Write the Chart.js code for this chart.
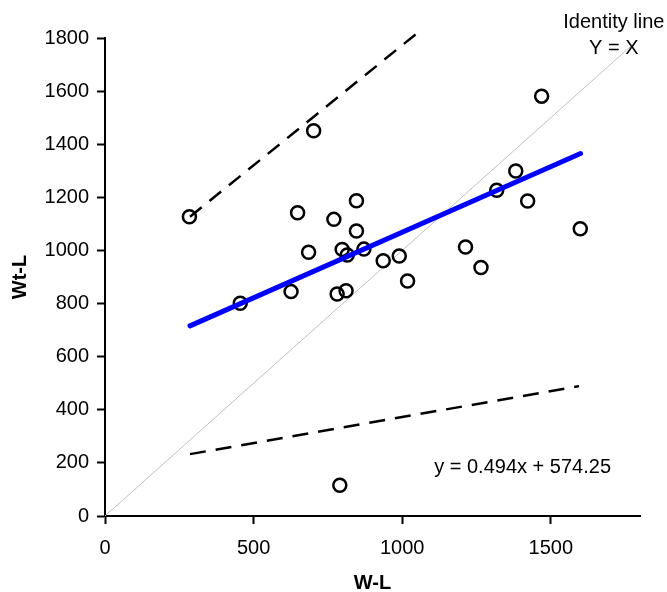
<!DOCTYPE html>
<html>
<head>
<meta charset="utf-8">
<script src="https://cdn.jsdelivr.net/npm/chart.js@4"></script>
<style>
  body { margin: 0; background: #fff; }
</style>
</head>
<body>
<canvas id="myChart" width="667" height="592"></canvas>
<script>
const FONT = 'Liberation Sans, Arial, sans-serif';

// observed points
const wl  = [284, 455, 626, 648, 685, 702, 770, 781, 790, 798, 811, 815, 846,
             846, 871, 936, 990, 1018, 1213, 1265, 1318, 1382, 1422, 1469, 1599];
const wtl = [1127, 801, 845, 1142, 993, 1451, 1117, 836, 116, 1004, 848, 983, 1187,
             1073, 1005, 961, 979, 885, 1013, 936, 1227, 1299, 1186, 1581, 1082];

// fitted line
const fitX = [286, 1600];
const fitY = [716, 1365];

// dashed bounds
const upperX = [286, 1051];
const upperY = [1127, 1819];
const lowerX = [286, 1595];
const lowerY = [233, 489];

// identity line
const identX = [0, 1770];
const identY = [0, 1770];

const xTicks = [0, 500, 1000, 1500];

const pts = (xs, ys) => xs.map((x, i) => ({x: x, y: ys[i]}));

const textLabels = {
  id: 'textLabels',
  afterDatasetsDraw(chart) {
    const c = chart.ctx;
    const xs = chart.scales.x, ys = chart.scales.y;
    c.save();
    c.fillStyle = '#000';
    c.font = '20px ' + FONT;
    c.textAlign = 'center';
    c.textBaseline = 'middle';
    c.fillText('Identity line', xs.getPixelForValue(1712), ys.getPixelForValue(1859));
    c.fillText('Y = X', xs.getPixelForValue(1712), ys.getPixelForValue(1762));
    c.fillText('y = 0.494x + 574.25', xs.getPixelForValue(1405), ys.getPixelForValue(184));
    c.restore();
  }
};

const ctx = document.getElementById('myChart');

new Chart(ctx, {
  type: 'scatter',
  data: {
    datasets: [{
      type: 'line',
      data: pts(fitX, fitY),
      borderColor: '#0000ff',
      borderWidth: 5,
      borderCapStyle: 'round',
      pointRadius: 0,
      order: 0
    }, {
      data: pts(wl, wtl),
      pointRadius: 6.5,
      pointBorderWidth: 2.5,
      borderColor: '#000',
      backgroundColor: 'rgba(0,0,0,0)',
      order: 1
    }, {
      type: 'line',
      data: pts(upperX, upperY),
      borderColor: '#000',
      borderWidth: 2.5,
      borderDash: [15, 10],
      pointRadius: 0,
      clip: false,
      order: 2
    }, {
      type: 'line',
      data: pts(lowerX, lowerY),
      borderColor: '#000',
      borderWidth: 2.5,
      borderDash: [16, 10],
      pointRadius: 0,
      order: 2
    }, {
      type: 'line',
      data: pts(identX, identY),
      borderColor: '#c0c0c0',
      borderWidth: 1,
      pointRadius: 0,
      order: 3
    }]
  },
  options: {
    responsive: false,
    animation: false,
    events: [],
    layout: { padding: { top: 38, right: 27, left: 0, bottom: 0 } },
    plugins: {
      legend: { display: false },
      tooltip: { enabled: false }
    },
    scales: {
      x: {
        type: 'linear',
        min: 0,
        max: 1800,
        afterBuildTicks: s => { s.ticks = xTicks.map(v => ({value: v})); },
        afterFit: s => { s.height = 76; },
        ticks: { color: '#000', font: { family: FONT, size: 20 }, padding: 12, maxRotation: 0,
                 callback: v => String(v) },
        grid: { drawOnChartArea: false, tickLength: 8, tickColor: '#000', tickWidth: 2 },
        border: { display: true, color: '#000', width: 2 },
        title: { display: true, text: 'W-L', color: '#000',
                 font: { family: FONT, size: 20, weight: 'bold' }, padding: { top: 0, bottom: -3 } }
      },
      y: {
        min: 0,
        max: 1800,
        afterFit: s => { s.width = 105; },
        ticks: { stepSize: 200, color: '#000', font: { family: FONT, size: 20 }, padding: 8,
                 callback: v => String(v) },
        grid: { drawOnChartArea: false, tickLength: 8, tickColor: '#000', tickWidth: 2 },
        border: { display: true, color: '#000', width: 2 },
        title: { display: true, text: 'Wt-L', color: '#000',
                 font: { family: FONT, size: 20, weight: 'bold' }, padding: { top: 8, bottom: 0 } }
      }
    }
  },
  plugins: [textLabels]
});
</script>
</body>
</html>
